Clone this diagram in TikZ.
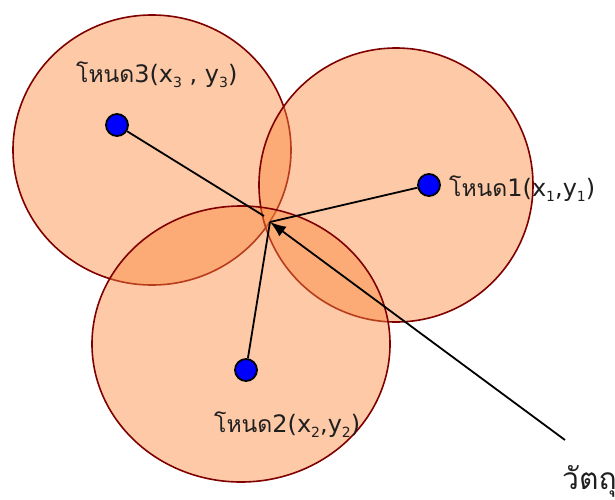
\documentclass[tikz,border=0pt]{standalone}
\usepackage{fontspec}
\newfontfamily\thaifont[Script=Thai]{Loma}
\newfontfamily\latfont{DejaVu Sans}
\usetikzlibrary{arrows.meta}
\definecolor{fillor}{RGB}{250,135,60}
\definecolor{edgered}{RGB}{128,0,0}
\newcommand{\subidx}[1]{\raisebox{-5pt}{\fontsize{14}{14}\selectfont #1}}
\begin{document}
\begin{tikzpicture}[x=1pt,y=-1pt,
  zone/.style={draw=edgered, line width=1.6pt, fill=fillor, fill opacity=0.45},
  dot/.style={circle, draw=black, line width=1.8pt, fill=blue, minimum size=22pt, inner sep=0pt},
  lbl/.style={font=\fontsize{24}{26}\selectfont, inner sep=0pt, anchor=base west, text=black!88},
  link/.style={line width=1.8pt, draw=black}]
\useasboundingbox (0,0) rectangle (615,499);
\draw[zone] (152,150) ellipse [x radius=139pt, y radius=135pt];
\draw[zone] (396,185) circle [radius=137pt];
\draw[zone] (241,344) ellipse [x radius=149pt, y radius=138pt];
\coordinate (p) at (270,222);
\coordinate (p3) at (264,216);
\coordinate (obj) at (565,440);
\node[dot] (n3) at (117,125) {};
\node[dot] (n1) at (429,185) {};
\node[dot] (n2) at (246,370) {};
\draw[link] (n3) -- (p3);
\draw[link] (n1) -- (p);
\draw[link] (n2) -- (p);
\draw[link, -{Latex[length=16pt,width=12pt]}] (obj) -- (p);
\node[lbl] (l3) at (76,82) {{\thaifont\fontsize{23}{25}\selectfont โหนด}{\latfont 3(x\subidx{3} , y\subidx{3})}};
\node[lbl] (l1) at (449,196) {{\thaifont\fontsize{23}{25}\selectfont โหนด}{\latfont 1(x\subidx{1},y\subidx{1})}};
\node[lbl] (l2) at (214,432) {{\thaifont\fontsize{23}{25}\selectfont โหนด}{\latfont 2(x\subidx{2},y\subidx{2})}};
\node[lbl] (lo) at (562,489) {{\thaifont\fontsize{30}{32}\selectfont วัตถุ}};
\end{tikzpicture}
\end{document}
